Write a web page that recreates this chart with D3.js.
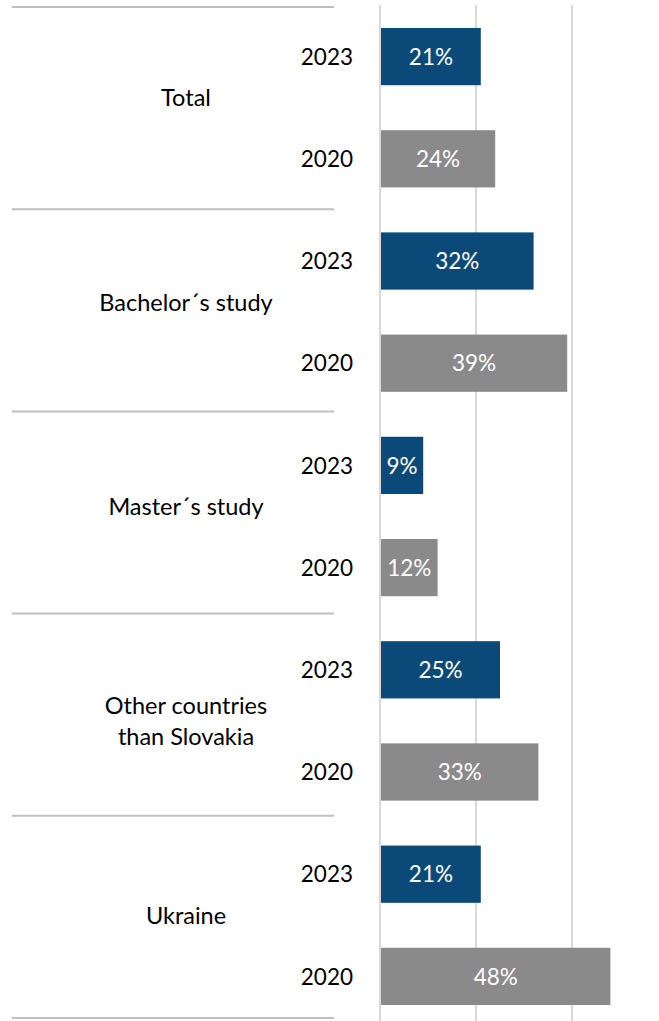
<!DOCTYPE html>
<html>
<head>
<meta charset="utf-8">
<script src="https://cdn.jsdelivr.net/npm/d3@7/dist/d3.min.js"></script>
<style>
  html, body { margin: 0; padding: 0; background: #ffffff; }
  svg { display: block; }
  text { font-family: Lato, "Open Sans", sans-serif; }
</style>
</head>
<body>
<svg id="chart" width="659" height="1021"></svg>
<script>
// ---- data ----
const groups = ["Total", "Bachelor´s study", "Master´s study", "Other countries than Slovakia", "Ukraine"];
const groupLines = [["Total"], ["Bachelor´s study"], ["Master´s study"], ["Other countries", "than Slovakia"], ["Ukraine"]];
const years = ["2023", "2020"];
const values2023 = [21, 32, 9, 25, 21];
const values2020 = [24, 39, 12, 33, 48];
const xTicks = [0, 20, 40, 60];

// ---- build rows ----
const rows = [];
groups.forEach((g, i) => {
  rows.push({ key: g + "|2023", group: i, year: "2023", value: values2023[i] });
  rows.push({ key: g + "|2020", group: i, year: "2020", value: values2020[i] });
});

const colors = { "2023": "#0b4a78", "2020": "#8a8a8a" };

const svg = d3.select("#chart");
const W = 659, H = 1021;

const x = d3.scaleLinear().domain([0, 60]).range([380, 668]);
const y = d3.scaleBand().domain(rows.map(r => r.key)).range([5.5, 1027.5])
  .paddingInner(0.44).paddingOuter(0.22);

// gridlines
svg.append("g").selectAll("line").data(xTicks).join("line")
  .attr("x1", d => x(d)).attr("x2", d => x(d))
  .attr("y1", 5).attr("y2", H)
  .attr("stroke", "#d9d9d9").attr("stroke-width", 2);

// bars
svg.append("g").selectAll("rect").data(rows).join("rect")
  .attr("x", x(0) + 1)
  .attr("y", d => y(d.key))
  .attr("width", d => x(d.value) - x(0) - 1)
  .attr("height", y.bandwidth())
  .attr("fill", d => colors[d.year]);

// value labels
svg.append("g").selectAll("text").data(rows).join("text")
  .attr("x", d => (x(0) + 1 + x(d.value)) / 2)
  .attr("y", d => y(d.key) + y.bandwidth() / 2)
  .attr("dy", "0.36em")
  .attr("text-anchor", "middle")
  .attr("fill", "#ffffff")
  .attr("font-size", 22.5)
  .text(d => d.value + "%");

// year labels
svg.append("g").selectAll("text").data(rows).join("text")
  .attr("x", 353)
  .attr("y", d => y(d.key) + y.bandwidth() / 2)
  .attr("dy", "0.36em")
  .attr("text-anchor", "end")
  .attr("fill", "#000000")
  .attr("font-size", 22.5)
  .text(d => d.year);

// group separators
const sepY = d3.scaleLinear().domain([0, groups.length]).range([7, 1018]);
svg.append("g").selectAll("line").data(d3.range(groups.length + 1)).join("line")
  .attr("x1", 12).attr("x2", 334)
  .attr("y1", d => sepY(d)).attr("y2", d => sepY(d))
  .attr("stroke", "#bfbfbf").attr("stroke-width", 2);

// group labels
const gl = svg.append("g").selectAll("text").data(groups).join("text")
  .attr("text-anchor", "middle")
  .attr("fill", "#000000")
  .attr("font-size", 23.5)
  .attr("transform", (g, i) => {
    const c = (y(g + "|2023") + y(g + "|2020") + y.bandwidth()) / 2;
    const off = groupLines[i].length > 1 ? 0 : -10;
    return `translate(186,${c + off})`;
  });
gl.each(function(g, i) {
  const lines = groupLines[i];
  const lh = 31;
  const t = d3.select(this);
  lines.forEach((ln, k) => {
    t.append("tspan")
      .attr("x", 0)
      .attr("y", (k - (lines.length - 1) / 2) * lh)
      .attr("dy", "0.36em")
      .text(ln);
  });
});
</script>
</body>
</html>
